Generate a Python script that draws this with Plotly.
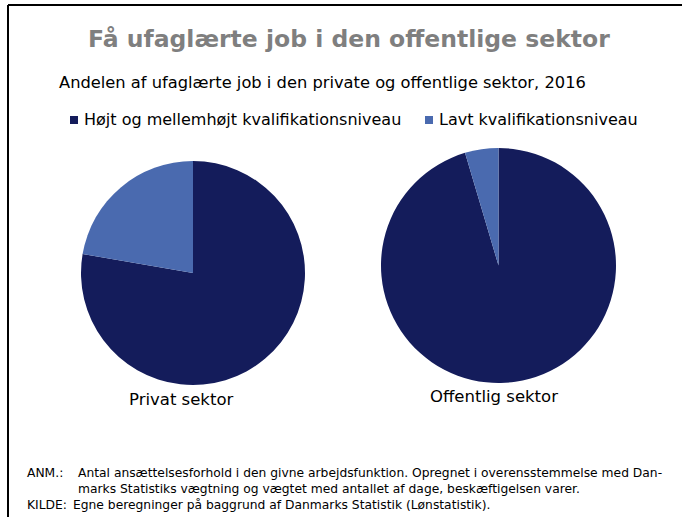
import plotly.graph_objects as go

W, H = 682, 517

categories = ["Højt og mellemhøjt kvalifikationsniveau", "Lavt kvalifikationsniveau"]
privat_values = [77.7, 22.3]
offentlig_values = [95.4, 4.6]
pie_names = ["Privat sektor", "Offentlig sektor"]
colors = ["#141C5B", "#4A6AAF"]

title_text = "Få ufaglærte job i den offentlige sektor"
subtitle_text = "Andelen af ufaglærte job i den private og offentlige sektor, 2016"
note_labels = ["ANM.:", "", "KILDE:"]
note_texts = [
    "Antal ansættelsesforhold i den givne arbejdsfunktion. Opregnet i overensstemmelse med Dan-",
    "marks Statistiks vægtning og vægtet med antallet af dage, beskæftigelsen varer.",
    "Egne beregninger på baggrund af Danmarks Statistik (Lønstatistik).",
]

FONT = "DejaVu Sans, Verdana, sans-serif"


def px(x):
    return x / W


def py(y):
    return 1 - y / H


fig = go.Figure()
fig.add_trace(go.Pie(
    labels=categories, values=privat_values, name=pie_names[0],
    marker=dict(colors=colors, line=dict(width=0)),
    sort=False, direction="clockwise", rotation=0,
    textinfo="none", hoverinfo="label+percent",
    domain=dict(x=[px(81), px(305)], y=[py(385), py(161)]),
    showlegend=False,
))
fig.add_trace(go.Pie(
    labels=categories, values=offentlig_values, name=pie_names[1],
    marker=dict(colors=colors, line=dict(width=0)),
    sort=False, direction="clockwise", rotation=0,
    textinfo="none", hoverinfo="label+percent",
    domain=dict(x=[px(381), px(616)], y=[py(383), py(148)]),
    showlegend=False,
))

annotations = [
    dict(text=f"<b>{title_text}</b>", x=px(348.5), y=py(39), xanchor="center", yanchor="middle",
         font=dict(size=23.5, color="#7F7F7F", family=FONT)),
    dict(text=subtitle_text, x=px(57), y=py(82), xanchor="left", yanchor="middle",
         font=dict(size=16.3, color="#000000", family=FONT)),
    dict(text=pie_names[0], x=px(180.5), y=py(399), xanchor="center", yanchor="middle",
         font=dict(size=16.5, color="#000000", family=FONT)),
    dict(text=pie_names[1], x=px(493.5), y=py(396), xanchor="center", yanchor="middle",
         font=dict(size=16.5, color="#000000", family=FONT)),
]

# legend (squares + labels built from categories/colors)
legend_sq_x = [70, 425]
legend_txt_x = [82, 437]
shapes = []
for cat, col, sx, tx in zip(categories, colors, legend_sq_x, legend_txt_x):
    shapes.append(dict(type="rect", xref="paper", yref="paper",
                       x0=px(sx), x1=px(sx + 8), y0=py(124), y1=py(116),
                       fillcolor=col, line=dict(width=0)))
    annotations.append(dict(text=cat, x=px(tx), y=py(120), xanchor="left", yanchor="middle",
                            font=dict(size=16, color="#000000", family=FONT)))

ys = [473, 489, 505]
text_x = [76, 76, 71]
for lab, txt, yy, tx in zip(note_labels, note_texts, ys, text_x):
    if lab:
        annotations.append(dict(text=lab, x=px(25), y=py(yy), xanchor="left", yanchor="middle",
                                font=dict(size=12.3, color="#000000", family=FONT)))
    annotations.append(dict(text=txt, x=px(tx), y=py(yy), xanchor="left", yanchor="middle",
                            font=dict(size=12.3, color="#000000", family=FONT)))
for a in annotations:
    a.update(xref="paper", yref="paper", showarrow=False)

shapes += [
    dict(type="line", xref="paper", yref="paper", x0=px(8), x1=1, y0=py(5), y1=py(5),
         line=dict(color="black", width=2)),
    dict(type="line", xref="paper", yref="paper", x0=px(8), x1=px(8), y0=py(5), y1=0,
         line=dict(color="black", width=2)),
]

fig.update_layout(
    width=W, height=H,
    margin=dict(l=0, r=0, t=0, b=0),
    paper_bgcolor="white", plot_bgcolor="white",
    annotations=annotations,
    shapes=shapes,
    showlegend=False,
)

fig.write_html(
    "out.html",
    config={"displayModeBar": False},
    post_script="document.body.style.margin='0';document.body.style.overflow='hidden';",
)
